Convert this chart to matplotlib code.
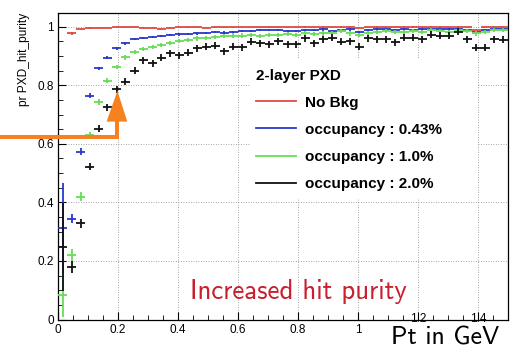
"""
Hit purity of the 2-layer PXD versus Pt, for several background occupancies.
"""

import numpy as np
import matplotlib
matplotlib.use("Agg")
import matplotlib.pyplot as plt
from matplotlib.patches import Polygon, Rectangle
from matplotlib.ticker import MultipleLocator
from matplotlib.transforms import ScaledTranslation

# Data (50 bins of 0.03 GeV)
# ----------------------------------------------------------------------
BIN_WIDTH = 0.03
N_BINS = 50

purity_nobkg = [np.nan, 0.977, 0.991, 0.996, 0.997, 0.997, 0.998, 0.998, 0.998, 0.997,
                0.997, 0.992, 0.997, 0.998, 0.998, 0.998, 0.997, 0.998, 0.998, 0.998,
                0.998, 0.998, 0.998, 0.999, 0.998, 0.998, 0.998, 0.999, 0.998, 0.999,
                0.998, 0.999, 0.999, 0.997, 0.998, 0.999, 0.999, 0.998, 0.999, 0.999,
                0.998, 0.999, 0.999, 0.998, 0.999, 0.998, 0.990, 0.998, 0.999, 0.999]
purity_043 = [0.311, 0.345, 0.573, 0.764, 0.858, 0.894, 0.926, 0.943, 0.958, 0.962,
              0.966, 0.969, 0.971, 0.974, 0.975, 0.977, 0.978, 0.983, 0.980, 0.983,
              0.985, 0.986, 0.989, 0.990, 0.988, 0.985, 0.986, 0.990, 0.989, 0.991,
              0.986, 0.990, 0.991, 0.983, 0.990, 0.991, 0.991, 0.990, 0.991, 0.988,
              0.991, 0.992, 0.991, 0.991, 0.992, 0.990, 0.983, 0.990, 0.992, 0.991]
purity_10 = [0.085, 0.220, 0.420, 0.630, 0.744, 0.816, 0.863, 0.895, 0.915, 0.923,
             0.930, 0.938, 0.945, 0.952, 0.955, 0.960, 0.962, 0.965, 0.967, 0.970,
             0.970, 0.973, 0.969, 0.972, 0.971, 0.975, 0.972, 0.980, 0.975, 0.977,
             0.980, 0.984, 0.977, 0.972, 0.980, 0.982, 0.986, 0.982, 0.983, 0.986,
             0.982, 0.989, 0.986, 0.982, 0.989, 0.986, 0.977, 0.983, 0.989, 0.989]
purity_20 = [0.249, 0.180, 0.329, 0.522, 0.651, 0.725, 0.787, 0.812, 0.850, 0.885,
             0.875, 0.894, 0.909, 0.903, 0.911, 0.926, 0.932, 0.935, 0.917, 0.932,
             0.930, 0.949, 0.943, 0.940, 0.951, 0.940, 0.940, 0.960, 0.943, 0.958,
             0.962, 0.949, 0.951, 0.932, 0.960, 0.958, 0.958, 0.947, 0.962, 0.962,
             0.958, 0.972, 0.969, 0.969, 0.983, 0.958, 0.928, 0.928, 0.958, 0.955]

err_nobkg = [0.0, 0.006, 0.003] + [0.002] * 47
err_043 = [0.155, 0.017, 0.012, 0.008, 0.006, 0.005] + [0.004] * 44
err_10 = [0.075, 0.020, 0.015, 0.012, 0.010, 0.009, 0.008] + [0.007] * 43
err_20 = [0.150, 0.020, 0.015, 0.012, 0.012, 0.012, 0.012] + [0.012] * 43

series = [("No Bkg", purity_nobkg, err_nobkg, "#dd4b45"),
          ("occupancy : 0.43%", purity_043, err_043, "#2838cc"),
          ("occupancy : 1.0%", purity_10, err_10, "#66dd55"),
          ("occupancy : 2.0%", purity_20, err_20, "#111111")]

X_TICKS = [0, 0.2, 0.4, 0.6, 0.8, 1.0, 1.2, 1.4]
X_TICKLABELS = ["0", "0.2", "0.4", "0.6", "0.8", "1", "1.2", "1.4"]
Y_TICKS = [0, 0.2, 0.4, 0.6, 0.8, 1.0]
Y_TICKLABELS = ["0", "0.2", "0.4", "0.6", "0.8", "1"]

ORANGE = "#f5821f"
TEXT_RED = "#c8202f"
# ----------------------------------------------------------------------


def main():
    fig = plt.figure(figsize=(5.15, 3.5), dpi=100)
    ax = fig.add_axes([58 / 515, 1 - 319.5 / 350, 450 / 515, 306.8 / 350])

    centers = (np.arange(N_BINS) + 0.5) * BIN_WIDTH
    handles = []
    for label, vals, errs, color in series:
        ax.errorbar(centers, vals, xerr=BIN_WIDTH / 2, yerr=errs, fmt="none",
                    ecolor=color, elinewidth=1.3, capsize=0, zorder=3)
        handles.append(plt.Line2D([], [], color=color, lw=1.3, label=label))

    ax.set_xlim(0, 1.5)
    ax.set_ylim(0, 1.048)
    ax.xaxis.set_minor_locator(MultipleLocator(0.05))
    ax.yaxis.set_minor_locator(MultipleLocator(0.05))
    ax.set_xticks(X_TICKS)
    ax.set_xticklabels(X_TICKLABELS)
    ax.set_yticks(Y_TICKS)
    ax.set_yticklabels(Y_TICKLABELS)
    ax.tick_params(which="both", direction="in", top=False, right=False,
                   labelsize=8.5, pad=3)
    ax.tick_params(which="major", length=6)
    ax.tick_params(which="minor", length=3.5)
    for lab in ax.get_xticklabels() + ax.get_yticklabels():
        lab.set_fontfamily("Liberation Sans")
    # the last two x labels sit higher, as on the original slide
    lift = ScaledTranslation(0, 11 / 100, fig.dpi_scale_trans)
    for lab in ax.get_xticklabels():
        if lab.get_text() in ("1.2", "1.4"):
            lab.set_transform(lab.get_transform() + lift)
    for sp in ax.spines.values():
        sp.set_linewidth(0.9)
    ax.set_axisbelow(True)
    ax.grid(True, which="major", color="#888888", linestyle=(0, (1, 2)), lw=0.6)

    # white legend pad
    ax.add_patch(Rectangle((0.427, 0.396), 0.504, 0.456, transform=ax.transAxes,
                           facecolor="white", edgecolor="none", zorder=1.5))
    leg = ax.legend(handles=handles, loc="upper left",
                    bbox_to_anchor=(0.44, 0.818), frameon=False,
                    title="2-layer PXD", alignment="left",
                    prop={"family": "Liberation Sans", "weight": "bold", "size": 11},
                    title_fontproperties={"family": "Liberation Sans",
                                          "weight": "bold", "size": 11},
                    handlelength=2.6, handletextpad=0.6, labelspacing=0.86,
                    borderpad=0, borderaxespad=0)
    leg.set_zorder(4)

    fig.text(24 / 515, 1 - 13 / 350, "pr PXD_hit_purity", rotation=90,
             ha="center", va="top", fontsize=8.6, family="Liberation Sans")

    # orange arrow pointing at the 2% curve
    ax.plot([-0.193, 0.198, 0.198], [0.624, 0.624, 0.68], color=ORANGE, lw=2.9,
            solid_joinstyle="miter", solid_capstyle="butt", clip_on=False, zorder=5)
    ax.add_patch(Polygon([[0.162, 0.676], [0.231, 0.676], [0.198, 0.781]],
                         closed=True, facecolor=ORANGE, edgecolor="none",
                         clip_on=False, zorder=5))

    ax.text(0.293, 0.066, "Increased hit purity", transform=ax.transAxes,
            color=TEXT_RED, fontsize=19.4, family="cmss10", va="baseline")
    fig.text(391 / 515, 0.5 / 350, "Pt in GeV", color="black",
             fontsize=18.6, family="cmss10", va="bottom")

    fig.savefig("out.png", dpi=100)


if __name__ == "__main__":
    main()
